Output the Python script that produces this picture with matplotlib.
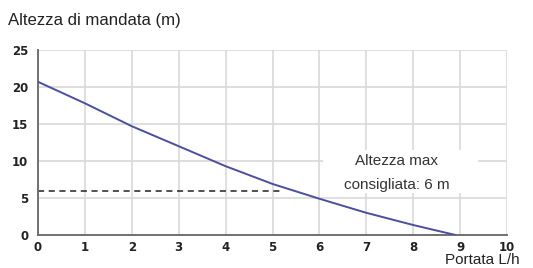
import matplotlib.pyplot as plt
from matplotlib.patches import Rectangle

# curva della pompa
portata = [0, 1, 2, 3, 4, 5, 6, 7, 8, 8.9]
altezza = [20.7, 17.8, 14.7, 12.0, 9.3, 6.9, 4.9, 3.0, 1.35, 0]

x_ticks = [0, 1, 2, 3, 4, 5, 6, 7, 8, 9, 10]
y_ticks = [0, 5, 10, 15, 20, 25]

altezza_max = 6
portata_max = 5.2

fig = plt.figure(figsize=(5.33, 2.68), dpi=100)
ax = fig.add_axes([38 / 533, 1 - 235 / 268, 469 / 533, 185 / 268])

ax.set_xlim(0, 10)
ax.set_ylim(0, 25)
ax.set_xticks(x_ticks)
ax.set_yticks(y_ticks)
ax.grid(True, color='#d9d9d9', linewidth=1.2, zorder=0)
ax.set_axisbelow(True)

for side in ['top', 'right']:
    ax.spines[side].set_visible(False)
for side in ['left', 'bottom']:
    ax.spines[side].set_color('#707070')
    ax.spines[side].set_linewidth(1.4)

ax.tick_params(length=0, labelsize=8.5, colors='#222222')
ax.tick_params(axis='y', pad=7)
ax.tick_params(axis='x', pad=4)
for lab in ax.get_xticklabels() + ax.get_yticklabels():
    lab.set_fontweight('bold')

# riquadro bianco dietro al testo
ax.add_patch(Rectangle((6.08, 5.7), 3.3, 5.8, facecolor='white', edgecolor='none', zorder=1))

ax.plot([0, portata_max], [altezza_max, altezza_max], color='#222222', linewidth=1.1,
        linestyle=(0, (4, 3)), zorder=2)
ax.plot(portata, altezza, color='#4a4f9e', linewidth=1.4, zorder=3)

ax.text(7.65, 10.05, 'Altezza max', ha='center', va='center', fontsize=11,
        color='#333333', family='Liberation Sans', zorder=4)
ax.text(7.65, 6.8, 'consigliata: 6 m', ha='center', va='center', fontsize=11,
        color='#333333', family='Liberation Sans', zorder=4)

fig.text(8 / 533, 1 - 20 / 268, 'Altezza di mandata (m)', ha='left', va='center',
         fontsize=12.1, color='#222222', family='Liberation Sans')
fig.text(482 / 533, 1 - 260 / 268, 'Portata L/h', ha='center', va='center',
         fontsize=11, color='#222222', family='Liberation Sans')

fig.savefig('out.png', dpi=100, facecolor='white')
